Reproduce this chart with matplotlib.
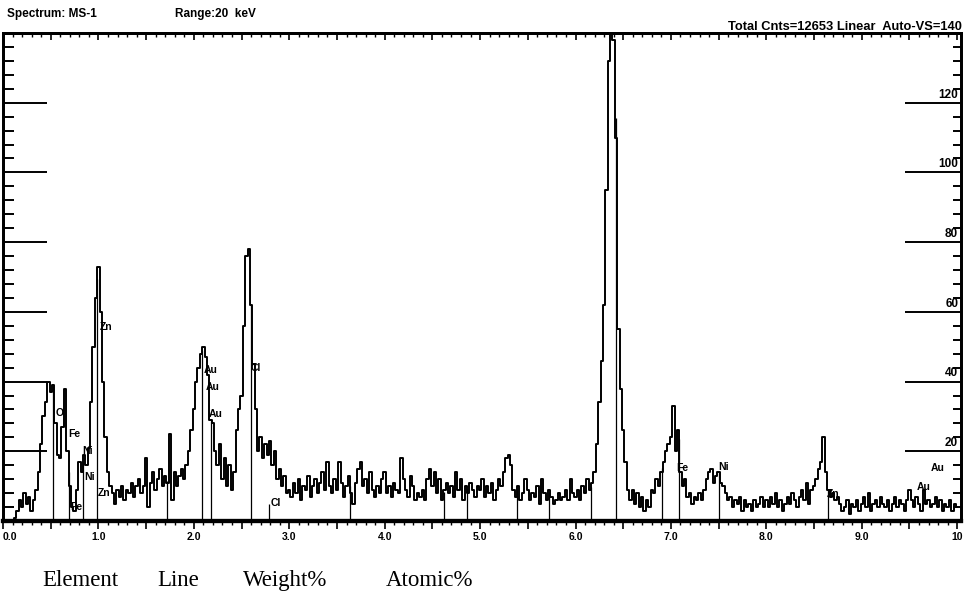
import matplotlib.pyplot as plt
import numpy as np
from matplotlib.ticker import MultipleLocator

# EDS spectrum MS-1, one value every 0.025 keV starting at 0 keV
step_kev = 0.025
counts = [
    # 0.0 - 0.975 keV
    0, 0, 0, 0, 0, 1, 3, 6, 4, 8, 5, 7, 3, 6, 9, 14, 22, 30, 34, 40,
    37, 39, 28, 19, 18, 27, 38, 20, 10, 4, 3, 9, 17, 14, 19, 16, 21, 34, 50, 64,
    # 1.0 - 1.975 keV
    73, 60, 40, 24, 14, 10, 8, 5, 9, 7, 10, 6, 9, 8, 11, 7, 10, 12, 8, 10,
    18, 4, 11, 14, 9, 12, 15, 10, 13, 11, 25, 6, 14, 10, 13, 15, 12, 16, 20, 26,
    # 2.0 - 2.975 keV
    32, 40, 44, 48, 50, 47, 42, 29, 28, 20, 16, 22, 12, 18, 10, 16, 9, 14, 26, 32,
    36, 56, 76, 78, 62, 45, 32, 20, 24, 18, 22, 19, 23, 16, 20, 12, 15, 10, 13, 8,
    # 3.0 - 3.975 keV
    9, 7, 11, 8, 12, 6, 10, 9, 13, 7, 10, 12, 8, 11, 14, 9, 17, 10, 8, 12,
    9, 17, 11, 7, 10, 13, 8, 5, 11, 15, 17, 10, 12, 8, 14, 9, 7, 10, 8, 12,
    # 4.0 - 4.975 keV
    14, 8, 10, 7, 11, 9, 8, 18, 12, 9, 7, 13, 10, 6, 8, 7, 9, 6, 12, 15,
    10, 14, 8, 12, 6, 9, 11, 8, 10, 7, 14, 9, 12, 6, 10, 8, 11, 9, 7, 10,
    # 5.0 - 5.975 keV
    9, 12, 7, 10, 8, 11, 6, 9, 12, 10, 14, 18, 19, 16, 9, 7, 10, 6, 8, 12,
    9, 6, 8, 7, 10, 5, 12, 8, 6, 9, 7, 5, 6, 8, 6, 7, 9, 6, 12, 8,
    # 6.0 - 6.975 keV
    7, 9, 6, 10, 8, 12, 9, 11, 14, 22, 34, 46, 62, 95, 132, 143, 138, 110, 55, 38,
    26, 17, 9, 6, 9, 5, 8, 4, 7, 3, 6, 4, 9, 8, 12, 10, 14, 17, 20, 22,
    # 7.0 - 7.975 keV
    24, 33, 20, 26, 14, 10, 12, 7, 8, 5, 7, 6, 8, 6, 9, 12, 14, 15, 11, 13,
    14, 11, 10, 8, 6, 7, 4, 6, 5, 7, 3, 6, 4, 5, 3, 6, 4, 5, 7, 4,
    # 8.0 - 8.975 keV
    6, 4, 7, 5, 8, 4, 6, 3, 5, 7, 5, 8, 6, 4, 7, 9, 6, 11, 5, 9,
    10, 12, 15, 17, 24, 14, 9, 7, 8, 6, 7, 5, 3, 4, 6, 2, 5, 4, 6, 3,
    # 9.0 - 10.0 keV
    5, 7, 4, 8, 3, 5, 6, 4, 7, 5, 4, 6, 3, 5, 7, 4, 6, 5, 3, 6,
    9, 6, 4, 7, 5, 3, 9, 5, 6, 4, 5, 7, 4, 6, 3, 5, 4, 6, 3, 5, 4,
]
energy = np.arange(len(counts)) * step_kev

# element marker lines (keV)
marker_kev = [0.52, 0.69, 0.84, 0.99, 1.72, 2.09, 2.18, 2.60, 3.64, 4.62,
              4.86, 5.39, 5.72, 6.16, 6.42, 6.91, 7.08, 7.50, 8.65]

# peak labels: name, keV, counts
peak_names = ["O", "Fe", "Ni", "Ni", "Fe", "Zn", "Zn", "Au", "Au", "Au",
              "Cl", "Cl", "Fe", "Ni", "Zn", "Au", "Au"]
peak_kev = [0.55, 0.685, 0.83, 0.855, 0.71, 1.01, 0.99, 2.10, 2.12, 2.16,
            2.60, 2.80, 7.06, 7.50, 8.63, 9.72, 9.58]
peak_cnt = [31, 25, 20, 12.6, 4, 55.6, 8, 43.3, 38.4, 30.7,
            44, 5.2, 15.2, 15.5, 7.7, 15.2, 9.8]

x_ticks = [0, 1, 2, 3, 4, 5, 6, 7, 8, 9, 10]
x_labels = ["0.0", "1.0", "2.0", "3.0", "4.0", "5.0", "6.0", "7.0", "8.0", "9.0", "10"]
y_scale = [20, 40, 60, 80, 100, 120]

fig = plt.figure(figsize=(9.64, 5.95), dpi=100)
ax = fig.add_axes([3 / 964, 74 / 595, 958 / 964, 488 / 595])

ax.plot(energy, counts, drawstyle="steps-mid", color="black", lw=1.4)
ax.vlines(marker_kev, 0, np.interp(marker_kev, energy, counts), color="black", lw=0.9)
ax.vlines([2.79], 0, 5, color="black", lw=0.9)

for name, e, c in zip(peak_names, peak_kev, peak_cnt):
    ax.text(e, c, name, fontsize=7.5, fontweight="bold", ha="left", va="center",
            family="Liberation Sans")

ax.set_xlim(0, 10.04)
ax.set_ylim(0, 140)

# bottom ticks
half_ticks = np.arange(0, 10.01, 0.5)
half_labels = []
for t in half_ticks:
    if t in x_ticks:
        half_labels.append(x_labels[x_ticks.index(t)])
    else:
        half_labels.append("")
ax.set_xticks(half_ticks, half_labels)
ax.xaxis.set_minor_locator(MultipleLocator(0.1))
ax.tick_params(axis="x", which="major", direction="out", length=6, width=1.2,
               labelsize=7.5, pad=2)
ax.tick_params(axis="x", which="minor", direction="out", length=3, width=1)
for lab in ax.get_xticklabels():
    lab.set_fontweight("bold")
    lab.set_family("Liberation Sans")
ax.get_xticklabels()[0].set_ha("left")

# top ticks
top = ax.secondary_xaxis("top")
top.set_xticks(half_ticks)
top.xaxis.set_minor_locator(MultipleLocator(0.1))
top.tick_params(which="major", direction="in", length=5, width=1.2, labeltop=False)
top.tick_params(which="minor", direction="in", length=3, width=1)
top.spines["top"].set_linewidth(2)

# left ticks
ax.yaxis.set_major_locator(MultipleLocator(20))
ax.yaxis.set_minor_locator(MultipleLocator(4))
ax.tick_params(axis="y", which="major", direction="in", length=32, width=1.4,
               labelleft=False)
ax.tick_params(axis="y", which="minor", direction="in", length=8, width=1.4)

# right ticks
ax2 = ax.twinx()
ax2.set_ylim(0, 140)
ax2.yaxis.set_major_locator(MultipleLocator(20))
ax2.yaxis.set_minor_locator(MultipleLocator(4))
ax2.tick_params(axis="y", which="major", direction="in", length=40, width=1.4,
                labelright=False)
ax2.tick_params(axis="y", which="minor", direction="in", length=6, width=1.4)

for a in (ax, ax2):
    a.spines["left"].set_linewidth(2)
    a.spines["right"].set_linewidth(2)
    a.spines["top"].set_linewidth(2)
    a.spines["bottom"].set_linewidth(3)

for v in y_scale:
    ax.text(0.997, v + 0.6, str(v), transform=ax.get_yaxis_transform(),
            ha="right", va="bottom", fontsize=8.5, fontweight="bold",
            family="Liberation Sans")

fig.text(7 / 964, 1 - 14 / 595, "Spectrum: MS-1", fontsize=8.5, fontweight="bold",
         family="Liberation Sans", va="center")
fig.text(175 / 964, 1 - 14 / 595, "Range:20  keV", fontsize=8.5, fontweight="bold",
         family="Liberation Sans", va="center")
fig.text(962 / 964, 1 - 30 / 595, "Total Cnts=12653 Linear  Auto-VS=140", fontsize=9.3,
         fontweight="bold", family="Liberation Sans", ha="right", va="baseline")

table_head = ["Element", "Line", "Weight%", "Atomic%"]
head_x = [42, 157, 243, 386]
for name, x in zip(table_head, head_x):
    fig.text(x / 964, 1 - 586 / 595, name, fontsize=16.5, family="Liberation Serif",
             va="baseline")

fig.savefig("out.png", dpi=100)
